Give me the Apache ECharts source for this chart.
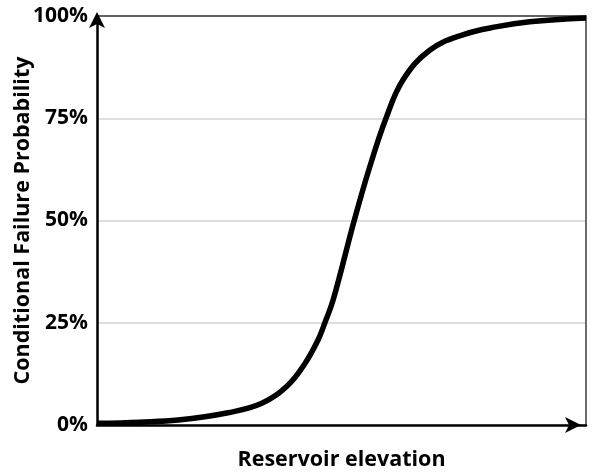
<!DOCTYPE html>
<html>
<head>
<meta charset="utf-8">
<script src="https://cdn.jsdelivr.net/npm/echarts@6/dist/echarts.min.js"></script>
<style>html,body{margin:0;padding:0;background:#fff}#c{width:592px;height:472px}</style>
</head>
<body>
<div id="c"></div>
<script>
// Relative reservoir elevation (0 = lowest, 100 = highest shown)
var elevation   = [0,   8.8, 16.6, 26.8, 33.7, 39.1, 42.5, 45.2, 46.6, 48.3, 52.6, 55.8, 59.1, 62.6, 68.1, 74.8, 81.8, 88.5, 100];
// Conditional failure probability, percent
var probability = [0.4, 0.7, 1.2,  3.0,  5.3,  9.8,  15,   20.8, 25,   30.6, 50,   63.2, 75,   84.4, 91.7, 95.4, 97.4, 98.6, 99.5];
var yTicks = [0, 25, 50, 75, 100];
var xTitle = 'Reservoir elevation';
var yTitle = 'Conditional Failure Probability';

var FONT = '"Open Sans"';
var points = elevation.map(function (e, i) { return [e, probability[i]]; });

var chart = echarts.init(document.getElementById('c'), null, {renderer: 'canvas'});
chart.setOption({
  animation: false,
  backgroundColor: '#fff',
  grid: {left: 97, right: 6, top: 16, bottom: 47, containLabel: false, outerBoundsMode: 'none'},
  xAxis: [{
    type: 'value', min: 0, max: 100,
    name: xTitle, nameLocation: 'middle', nameGap: 24, nameMoveOverlap: false,
    nameTextStyle: {fontFamily: FONT, fontWeight: 'bold', fontSize: 21.5, color: '#000'},
    axisLine: {show: true, lineStyle: {color: '#000', width: 2.5}, symbol: ['none', 'arrow'], symbolSize: [12, 16], symbolOffset: [0, -5]},
    axisTick: {show: false}, axisLabel: {show: false}, splitLine: {show: false}
  }, {
    type: 'value', min: 0, max: 100, position: 'top',
    axisLine: {show: true, onZero: false, lineStyle: {color: '#3a3a3a', width: 1.5}},
    axisTick: {show: false}, axisLabel: {show: false}, splitLine: {show: false}
  }],
  yAxis: [{
    type: 'value', min: yTicks[0], max: yTicks[yTicks.length - 1], interval: 25,
    name: yTitle, nameLocation: 'middle', nameGap: 63, nameRotate: 90, nameMoveOverlap: false,
    nameTextStyle: {fontFamily: FONT, fontWeight: 'bold', fontSize: 21.5, color: '#000'},
    axisLine: {show: true, lineStyle: {color: '#000', width: 2.5}, symbol: ['none', 'arrow'], symbolSize: [12, 16], symbolOffset: [0, 4]},
    axisTick: {show: false},
    axisLabel: {formatter: '{value}%', margin: 9, fontFamily: FONT, fontWeight: 'bold', fontSize: 21, color: '#000'},
    splitLine: {show: true, lineStyle: {color: '#d4d4d4', width: 1.5}}
  }, {
    type: 'value', min: 0, max: 100, position: 'right',
    axisLine: {show: true, onZero: false, lineStyle: {color: '#3a3a3a', width: 1.5}},
    axisTick: {show: false}, axisLabel: {show: false}, splitLine: {show: false}
  }],
  series: [{
    type: 'line', data: points, smooth: 0.4, showSymbol: false,
    lineStyle: {color: '#000', width: 5.5}, z: 5
  }]
});
</script>
</body>
</html>
